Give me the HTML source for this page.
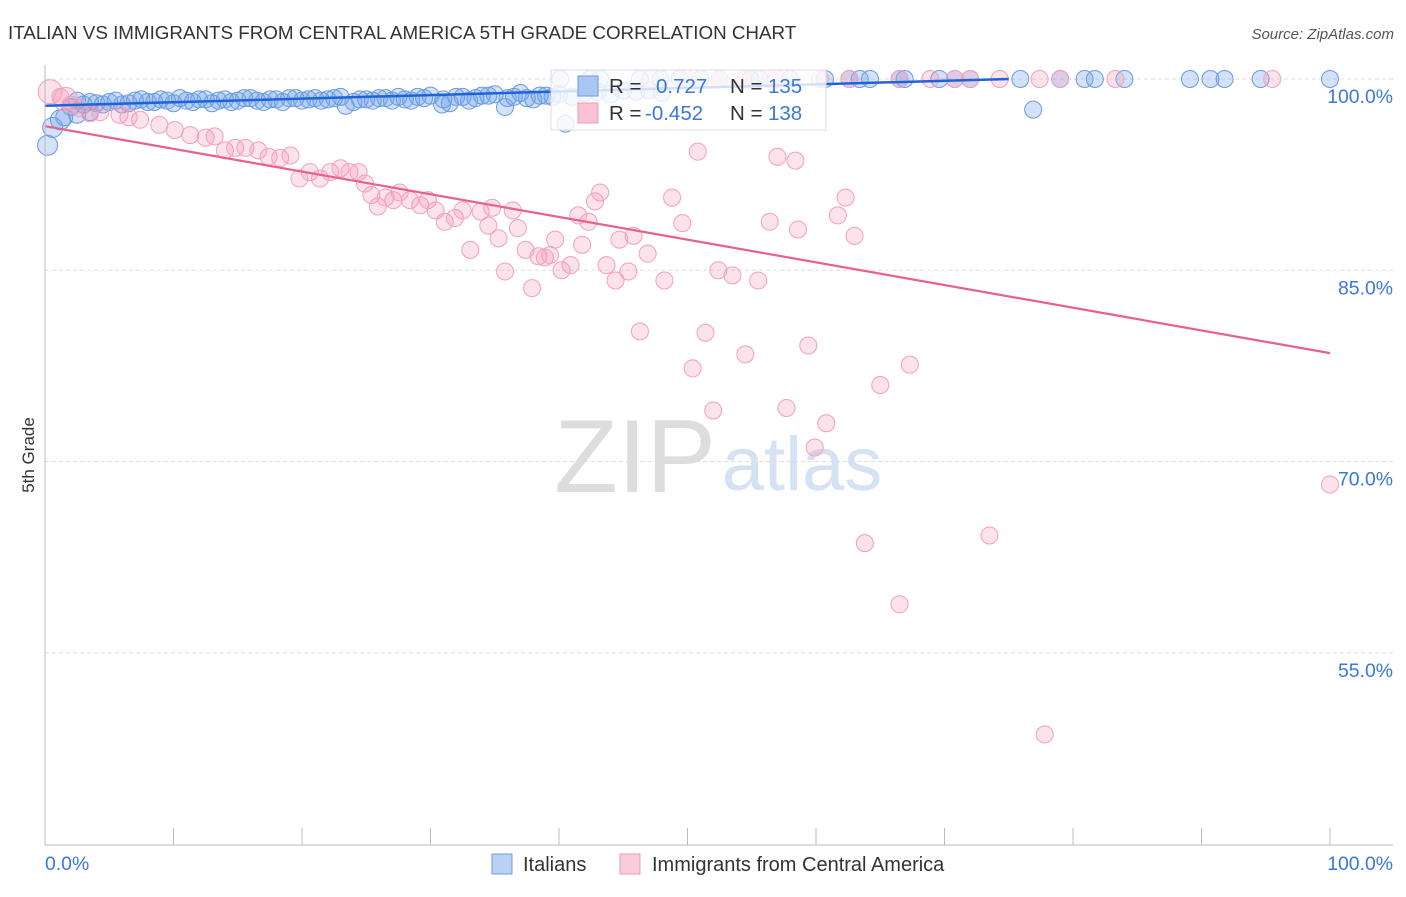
<!DOCTYPE html>
<html><head><meta charset="utf-8"><style>
body{margin:0;background:#fff;font-family:"Liberation Sans",sans-serif}
svg text{font-family:"Liberation Sans",sans-serif}
</style></head><body>
<svg id="c" width="1406" height="892" xmlns="http://www.w3.org/2000/svg">
<text x="8" y="39" font-size="18.8" fill="#333">ITALIAN VS IMMIGRANTS FROM CENTRAL AMERICA 5TH GRADE CORRELATION CHART</text>
<text x="1394" y="39" font-size="15" fill="#555" font-style="italic" text-anchor="end">Source: ZipAtlas.com</text>
<g><text x="635" y="492" font-size="104" fill="#ddd" font-family="Liberation Serif" text-anchor="middle">ZIP</text><text x="802" y="490" font-size="76" fill="#d4e2f4" text-anchor="middle">atlas</text></g>
<g id="grid"></g><g id="pts"></g><g id="lines"></g>
<line x1="45" y1="65" x2="45" y2="845" stroke="#bbb"/>
<line x1="45" y1="845" x2="1393" y2="845" stroke="#bbb"/>
<g id="ticks"></g>
<text transform="translate(34,455) rotate(-90)" font-size="17" fill="#333" text-anchor="middle">5th Grade</text>
<text x="45" y="870" font-size="19.4" fill="#3b78d8">0.0%</text>
<text x="1393" y="870" font-size="19.4" fill="#3b78d8" text-anchor="end">100.0%</text>
<g>
<rect x="551" y="70" width="275" height="60" fill="#fff" fill-opacity="0.8" stroke="#ddd"/>
<rect x="578" y="76" width="20" height="20" fill="#a9c7f2" stroke="#6a9be0"/>
<text x="609" y="93" font-size="20.5" fill="#333">R = </text><text x="656" y="93" font-size="20.5" fill="#3b78d8">0.727</text>
<text x="730" y="93" font-size="20.5" fill="#333">N = </text><text x="768" y="93" font-size="20.5" fill="#3b78d8">135</text>
<rect x="578" y="103" width="20" height="20" fill="#f9c2d3" stroke="#f09ab5"/>
<text x="609" y="120" font-size="20.5" fill="#333">R = </text><text x="645" y="120" font-size="20.5" fill="#3b78d8">-0.452</text>
<text x="730" y="120" font-size="20.5" fill="#333">N = </text><text x="768" y="120" font-size="20.5" fill="#3b78d8">138</text>
</g>
<g>
<rect x="492" y="854" width="20" height="20" fill="#b9d2f4" stroke="#6a9be0"/>
<text x="523" y="871" font-size="20" fill="#333">Italians</text>
<rect x="620" y="854" width="20" height="20" fill="#f9ccdb" stroke="#f09ab5"/>
<text x="652" y="871" font-size="20" fill="#333">Immigrants from Central America</text>
</g>
</svg>
<script>
const yTicks=[100,85,70,55];
const yTickLabels=["100.0%","85.0%","70.0%","55.0%"];
const xTicks=[0,10,20,30,40,50,60,70,80,90,100];
const blueX=[0.2,0.6,1.2,2,3,4,5,6,7,8,9,10,11,12,13,14,15,16,17,18,19,20,21,22,23,24,25,26,27,28,29,30,31,32,33,34,35,36,37,38,39,40,41,42,43,44,45,46,47,48,23.4,30.9,31.5,35.8,40.5,40.1,42.4,43.2,46.3,47.9,49.4,51.0,52.5,54.9,55.6,58.0,60.7,62.6,63.4,64.2,66.5,66.9,69.6,70.8,72.0,75.9,79.0,80.9,81.7,84.0,89.1,90.7,91.8,94.6,100,76.9,2.5,1.5,3.5,2.5,3.5,4.5,5.5,6.5,7.5,8.5,9.5,10.5,11.5,12.5,13.5,14.5,15.5,16.5,17.5,18.5,19.5,20.5,21.5,22.5,24.5,25.5,26.5,27.5,28.5,29.5,32.5,33.5,34.5,36.5,37.5,38.5,39.5];
const blueY=[94.8,96.2,96.8,97.8,98.0,98.1,98.2,98.0,98.3,98.2,98.4,98.1,98.3,98.4,98.1,98.4,98.3,98.5,98.2,98.4,98.5,98.3,98.5,98.4,98.6,98.2,98.4,98.5,98.3,98.4,98.6,98.7,98.4,98.6,98.3,98.7,98.8,98.5,98.9,98.4,98.7,98.8,98.6,98.9,99.0,98.8,99.1,99.0,99.1,98.9,97.9,98.0,98.1,97.8,96.5,100,100,100,100,100,100,100,100,100,100,100,100,100,100,100,100,100,100,100,100,100,100,100,100,100,100,100,100,100,100,97.6,97.2,97.0,97.4,98.3,98.2,98.0,98.3,98.1,98.4,98.2,98.3,98.5,98.2,98.4,98.3,98.2,98.5,98.3,98.4,98.2,98.5,98.4,98.3,98.5,98.4,98.3,98.5,98.6,98.3,98.5,98.6,98.5,98.7,98.6,98.5,98.7,98.6];
const pinkX=[0.4,1.6,2.7,4.3,5.8,7.4,8.9,10.1,11.3,12.5,13.2,14.0,14.8,15.6,16.6,17.4,18.3,19.1,19.8,20.6,21.4,22.2,23.0,23.7,24.4,24.9,25.4,25.9,26.5,27.1,27.6,28.4,29.2,29.8,30.4,31.1,31.9,32.5,33.1,33.9,34.5,34.8,35.3,35.8,36.4,36.8,37.4,37.9,38.4,38.9,39.3,39.7,40.2,40.9,41.5,41.8,42.3,42.8,43.2,43.7,44.4,44.7,45.4,45.8,46.3,46.9,48.2,48.8,49.6,50.4,50.8,51.4,52.0,52.4,53.5,54.5,55.5,56.4,57.0,57.7,58.4,58.6,59.4,59.9,60.8,61.7,62.3,63.0,63.8,65.0,66.5,67.3,73.5,77.8,100,47.1,50.0,52.5,54.5,56.4,57.0,60.3,62.6,66.5,68.9,70.8,72.0,74.3,77.4,79.0,83.3,95.5,1.2,2.0,3.5,6.5];
const pinkY=[99.0,98.4,97.7,97.4,97.2,96.8,96.4,96.0,95.6,95.4,95.5,94.4,94.6,94.6,94.4,93.9,93.8,94.0,92.2,92.7,92.2,92.7,93.0,92.7,92.7,91.8,90.9,90.0,90.7,90.5,91.1,90.5,90.1,90.5,89.7,88.8,89.1,89.7,86.6,89.6,88.5,89.9,87.5,84.9,89.7,88.3,86.6,83.6,86.1,86.0,86.2,87.4,85.0,85.4,89.3,87.0,88.8,90.4,91.1,85.4,84.2,87.4,84.9,87.7,80.2,86.3,84.2,90.7,88.7,77.3,94.3,80.1,74.0,85.0,84.6,78.4,84.2,88.8,93.9,74.2,93.6,88.2,79.1,71.1,73.0,89.3,90.7,87.7,63.6,76.0,58.8,77.6,64.2,48.6,68.2,100,100,100,100,100,100,100,100,100,100,100,100,100,100,100,100,100,98.6,98.0,97.3,97.0];
const blueTrendX=[0,75];const blueTrendY=[97.9,100];
const pinkTrendX=[0,100];const pinkTrendY=[96.3,78.5];
const NS="http://www.w3.org/2000/svg";
const sx=v=>45+v*12.85, sy=v=>79+(100-v)*12.75;
function mk(t,a,p){const e=document.createElementNS(NS,t);for(const k in a)e.setAttribute(k,a[k]);p.appendChild(e);return e;}
const grid=document.getElementById('grid'),ticks=document.getElementById('ticks'),pts=document.getElementById('pts'),lines=document.getElementById('lines');
yTicks.forEach((v,i)=>{const l=mk('line',{x1:45,x2:1393,y1:sy(v),y2:sy(v),stroke:'#ddd','stroke-dasharray':'4 3'},grid);


const t=mk('text',{x:1393,y:sy(v)+24,'font-size':19.4,fill:'#3b78d8','text-anchor':'end'},ticks);t.textContent=yTickLabels[i];

});
xTicks.forEach(v=>{const l=mk('line',{x1:sx(v),x2:sx(v),y1:828,y2:845,stroke:'#bbb'},ticks);

});
blueX.forEach((x,i)=>{const c=mk('circle',{cx:sx(x),cy:sy(blueY[i]),r:i<3?10:8.5,fill:'rgba(110,160,235,0.3)',stroke:'#6a9be0','stroke-width':1},pts);

});
pinkX.forEach((x,i)=>{const c=mk('circle',{cx:sx(x),cy:sy(pinkY[i]),r:i<2?12:8.5,fill:'rgba(245,150,180,0.28)',stroke:'#f2a0bb','stroke-width':1},pts);

});
const bl=mk('line',{x1:sx(blueTrendX[0]),y1:sy(blueTrendY[0]),x2:sx(blueTrendX[1]),y2:sy(blueTrendY[1]),stroke:'#1f63d6','stroke-width':2.5},lines);


const pl=mk('line',{x1:sx(pinkTrendX[0]),y1:sy(pinkTrendY[0]),x2:sx(pinkTrendX[1]),y2:sy(pinkTrendY[1]),stroke:'#e8608f','stroke-width':2.2},lines);


</script>
</body></html>
